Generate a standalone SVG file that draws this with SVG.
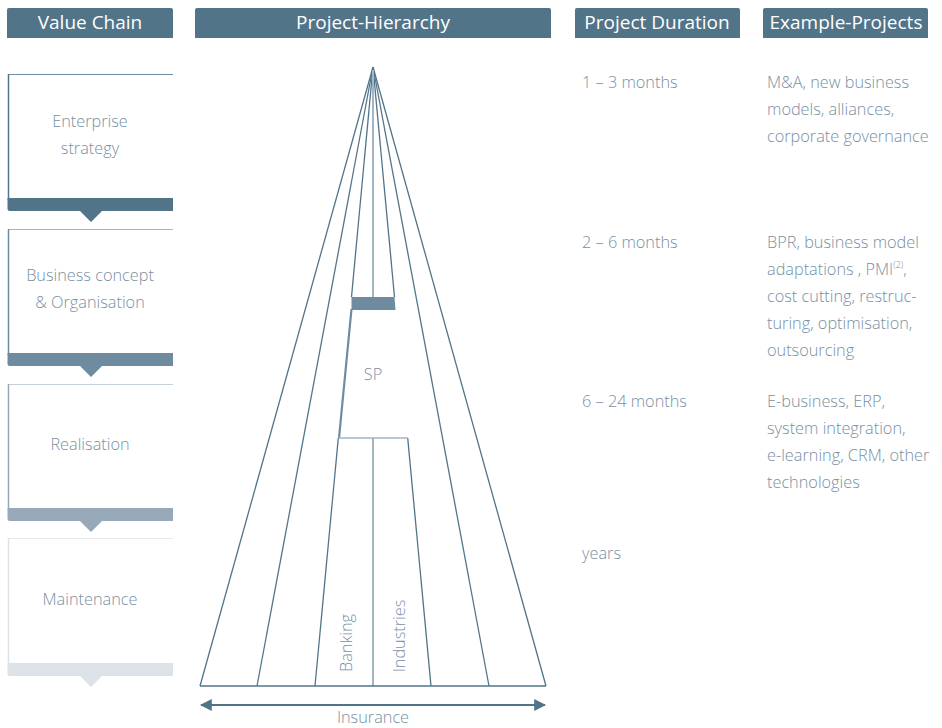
<svg xmlns="http://www.w3.org/2000/svg" width="942" height="728" viewBox="0 0 942 728">
<style>
.hdr{fill:#527489}
.ht{font-family:"Open Sans","Liberation Sans",sans-serif;font-size:19px;fill:#ffffff;text-anchor:middle}
.t{font-family:"Open Sans","Liberation Sans",sans-serif;font-weight:300;font-size:16.3px;fill:#7890a3}
.c{text-anchor:middle}
.pl{stroke:#527489;stroke-width:1.3;fill:none}
.cl{stroke:#a2b5c3;stroke-width:2;fill:none}
</style>
<defs>
<marker id="ah" viewBox="0 0 10 10" refX="9" refY="5" markerWidth="12" markerHeight="16" markerUnits="userSpaceOnUse" orient="auto-start-reverse">
<path d="M0,0 L10,5 L0,10 Z" fill="#527489"/>
</marker>
</defs>
<rect width="942" height="728" fill="#ffffff"/>
<g id="headers">
<path class="hdr" d="M7,38 V10 Q7,8 9,8 H171 Q173,8 173,10 V38 Z"/>
<text class="ht" x="90" y="29">Value Chain</text>
<path class="hdr" d="M195,38 V10 Q195,8 197,8 H549 Q551,8 551,10 V38 Z"/>
<text class="ht" x="373" y="29">Project-Hierarchy</text>
<path class="hdr" d="M575,38 V10 Q575,8 577,8 H738 Q740,8 740,10 V38 Z"/>
<text class="ht" x="657" y="29">Project Duration</text>
<path class="hdr" d="M763,38 V10 Q763,8 765,8 H926 Q928,8 928,10 V38 Z"/>
<text class="ht" x="846" y="29">Example-Projects</text>
</g>
<g id="vc1">
<line x1="8" y1="74.5" x2="173" y2="74.5" stroke="#6e8ba0" stroke-width="1"/>
<line x1="8.5" y1="74" x2="8.5" y2="200" stroke="#527489" stroke-width="1.5"/>
<path d="M7.5,198 H173 V211 H102 L91,222 L80,211 H10 Q7.5,211 7.5,208.5 Z" fill="#527489"/>
<text class="t c" x="90" y="127">Enterprise</text>
<text class="t c" x="90" y="154">strategy</text>
</g>
<g id="vc2">
<line x1="8" y1="229.5" x2="173" y2="229.5" stroke="#a2b5c3" stroke-width="1"/>
<line x1="8.5" y1="229" x2="8.5" y2="355" stroke="#6e8ba0" stroke-width="1.5"/>
<path d="M7.5,353 H173 V366 H102 L91,377 L80,366 H10 Q7.5,366 7.5,363.5 Z" fill="#6e8ba0"/>
<text class="t c" x="90" y="281">Business concept</text>
<text class="t c" x="90" y="308">&amp; Organisation</text>
</g>
<g id="vc3">
<line x1="8" y1="384.5" x2="173" y2="384.5" stroke="#c5d0d9" stroke-width="1"/>
<line x1="8.5" y1="384" x2="8.5" y2="510" stroke="#97a9b8" stroke-width="1.5"/>
<path d="M7.5,508 H173 V521 H102 L91,532 L80,521 H10 Q7.5,521 7.5,518.5 Z" fill="#97a9b8"/>
<text class="t c" x="90" y="450">Realisation</text>
</g>
<g id="vc4">
<line x1="8" y1="538.5" x2="173" y2="538.5" stroke="#e6e9ee" stroke-width="1"/>
<line x1="8.5" y1="538" x2="8.5" y2="665" stroke="#dde1e8" stroke-width="1.5"/>
<path d="M7.5,663 H173 V676 H102 L91,687 L80,676 H10 Q7.5,676 7.5,673.5 Z" fill="#dde1e8"/>
<text class="t c" x="90" y="605">Maintenance</text>
</g>
<g id="pyramid">
<line class="pl" x1="373" y1="67" x2="200" y2="686"/>
<line class="pl" x1="373" y1="67" x2="257" y2="686"/>
<line class="pl" x1="373" y1="67" x2="489" y2="686"/>
<line class="pl" x1="373" y1="67" x2="546" y2="686"/>
<line class="pl" x1="373" y1="67" x2="351.5" y2="297"/>
<line class="pl" x1="373" y1="67" x2="394.5" y2="297"/>
<line class="cl" x1="373" y1="70" x2="373" y2="298"/>
<line class="cl" x1="373" y1="438" x2="373" y2="686"/>
<line class="pl" x1="338.3" y1="438" x2="315" y2="686"/>
<line class="pl" x1="407.7" y1="438" x2="431" y2="686"/>
<line class="pl" x1="200" y1="686" x2="546" y2="686"/>
</g>
<g id="sp">
<path d="M351.5,297 H394.5 L395.5,310 H351.5 Z" fill="#6e8ba0"/>
<line x1="351.5" y1="309" x2="339" y2="438" stroke="#6e8ba0" stroke-width="2.2"/>
<line x1="338.5" y1="438" x2="408" y2="438" stroke="#a2b5c3" stroke-width="1.5"/>
<text class="t c" x="373" y="380">SP</text>
</g>
<g id="labels">
<text class="t c" transform="translate(352,643) rotate(-90)">Banking</text>
<text class="t c" transform="translate(405,636) rotate(-90)">Industries</text>
</g>
<g id="connectors">
<line x1="201" y1="705" x2="545" y2="705" stroke="#527489" stroke-width="2" marker-start="url(#ah)" marker-end="url(#ah)"/>
</g>
<text class="t c" x="373" y="723">Insurance</text>
<g id="durations">
<text class="t" x="582" y="88">1 – 3 months</text>
<text class="t" x="582" y="248">2 – 6 months</text>
<text class="t" x="582" y="407">6 – 24 months</text>
<text class="t" x="582" y="559">years</text>
</g>
<g id="examples">
<text class="t" x="767" y="88">M&amp;A, new business</text>
<text class="t" x="767" y="115">models, alliances,</text>
<text class="t" x="767" y="142">corporate governance</text>
<text class="t" x="767" y="248">BPR, business model</text>
<text class="t" x="767" y="275">adaptations , PMI<tspan font-size="9" dy="-7">(2)</tspan><tspan dy="7">,</tspan></text>
<text class="t" x="767" y="302">cost cutting, restruc-</text>
<text class="t" x="767" y="329">turing, optimisation,</text>
<text class="t" x="767" y="356">outsourcing</text>
<text class="t" x="767" y="407">E-business, ERP,</text>
<text class="t" x="767" y="434">system integration,</text>
<text class="t" x="767" y="461">e-learning, CRM, other</text>
<text class="t" x="767" y="488">technologies</text>
</g>
</svg>
